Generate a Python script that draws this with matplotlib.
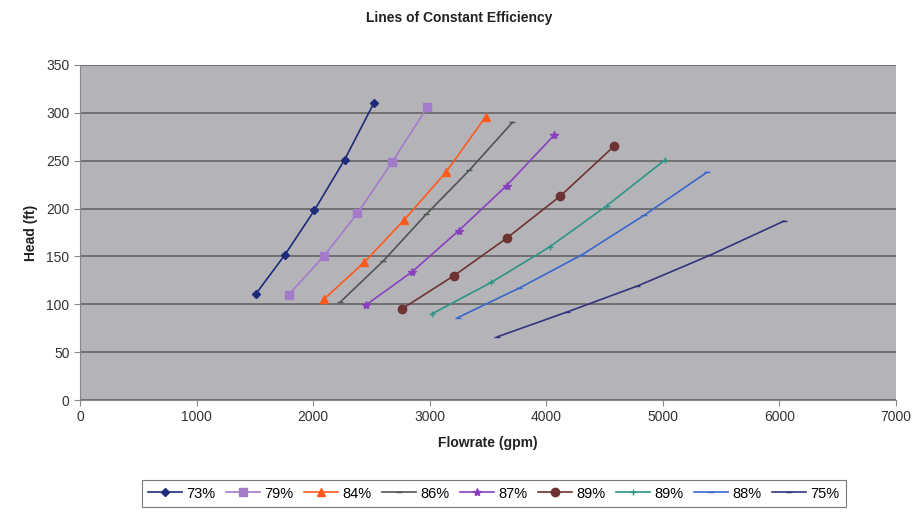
import matplotlib
matplotlib.use("Agg")
import matplotlib.pyplot as plt

plt.rcParams['font.family'] = ['Liberation Sans', 'DejaVu Sans']

# Efficiency contours: flowrate (gpm) vs head (ft)
labels = ["73%", "79%", "84%", "86%", "87%", "89%", "89%", "88%", "75%"]

flow_73 = [1510, 1760, 2010, 2270, 2520]
head_73 = [111, 152, 198, 251, 310]
flow_79 = [1790, 2090, 2380, 2680, 2980]
head_79 = [110, 150, 195, 249, 306]
flow_84 = [2090, 2440, 2780, 3140, 3480]
head_84 = [105, 144, 188, 238, 296]
flow_86 = [2230, 2600, 2970, 3340, 3710]
head_86 = [102, 145, 194, 240, 290]
flow_87 = [2450, 2850, 3250, 3660, 4070]
head_87 = [99, 134, 177, 224, 277]
flow_89a = [2760, 3210, 3660, 4120, 4580]
head_89a = [95, 130, 169, 213, 265]
flow_89b = [3020, 3530, 4030, 4520, 5020]
head_89b = [90, 123, 160, 203, 251]
flow_88 = [3240, 3770, 4310, 4840, 5380]
head_88 = [86, 117, 152, 193, 238]
flow_75 = [3580, 4180, 4780, 5400, 6040]
head_75 = [66, 92, 119, 151, 187]

flows = [flow_73, flow_79, flow_84, flow_86, flow_87, flow_89a, flow_89b, flow_88, flow_75]
heads = [head_73, head_79, head_84, head_86, head_87, head_89a, head_89b, head_88, head_75]

colors = ["#1f2a7a", "#a47acb", "#ff5a1e", "#4f5552", "#8a3fc0",
          "#6e3232", "#2e9484", "#3a66cc", "#34347e"]
markers = ["D", "s", "^", "_", "*", "o", "+", "_", "_"]
msizes = [4.5, 6, 6, 5, 6, 6, 5, 5, 5]

fig = plt.figure(figsize=(9.18, 5.12), dpi=100)
ax = fig.add_axes([0.0871, 0.21875, 0.8889, 0.6543])
ax.set_facecolor("#b4b4b8")

for x, y, lab, c, m, ms in zip(flows, heads, labels, colors, markers, msizes):
    ax.plot(x, y, color=c, marker=m, markersize=ms, linewidth=1.2,
            markeredgewidth=1.0, label=lab)

ax.set_xlim(0, 7000)
ax.set_ylim(0, 350)
ax.set_xticks(range(0, 7001, 1000))
ax.set_yticks(range(0, 351, 50))
ax.yaxis.grid(True, color="#6a6a6a", linewidth=1.3)
ax.set_axisbelow(True)

for side in ["top", "right"]:
    ax.spines[side].set_visible(False)
for side in ["left", "bottom"]:
    ax.spines[side].set_color("#8a8a8a")
ax.tick_params(colors="#8a8a8a", labelcolor="#333333", labelsize=10, length=4)

ax.set_xlabel("Flowrate (gpm)", fontsize=10, fontweight="bold", color="#222222", labelpad=8)
ax.set_ylabel("Head (ft)", fontsize=10, fontweight="bold", color="#222222", labelpad=6)
fig.text(0.5, 0.965, "Lines of Constant Efficiency", ha="center", va="center",
         fontsize=10, fontweight="bold", color="#222222")

leg = fig.legend(loc="center", bbox_to_anchor=(0.538, 0.036), ncol=9,
                 fontsize=10.5, frameon=True, fancybox=False, handlelength=2.3,
                 handletextpad=0.3, columnspacing=0.75, borderpad=0.45)
leg.get_frame().set_edgecolor("#555555")
leg.get_frame().set_linewidth(0.8)

fig.savefig("out.png", dpi=100)
